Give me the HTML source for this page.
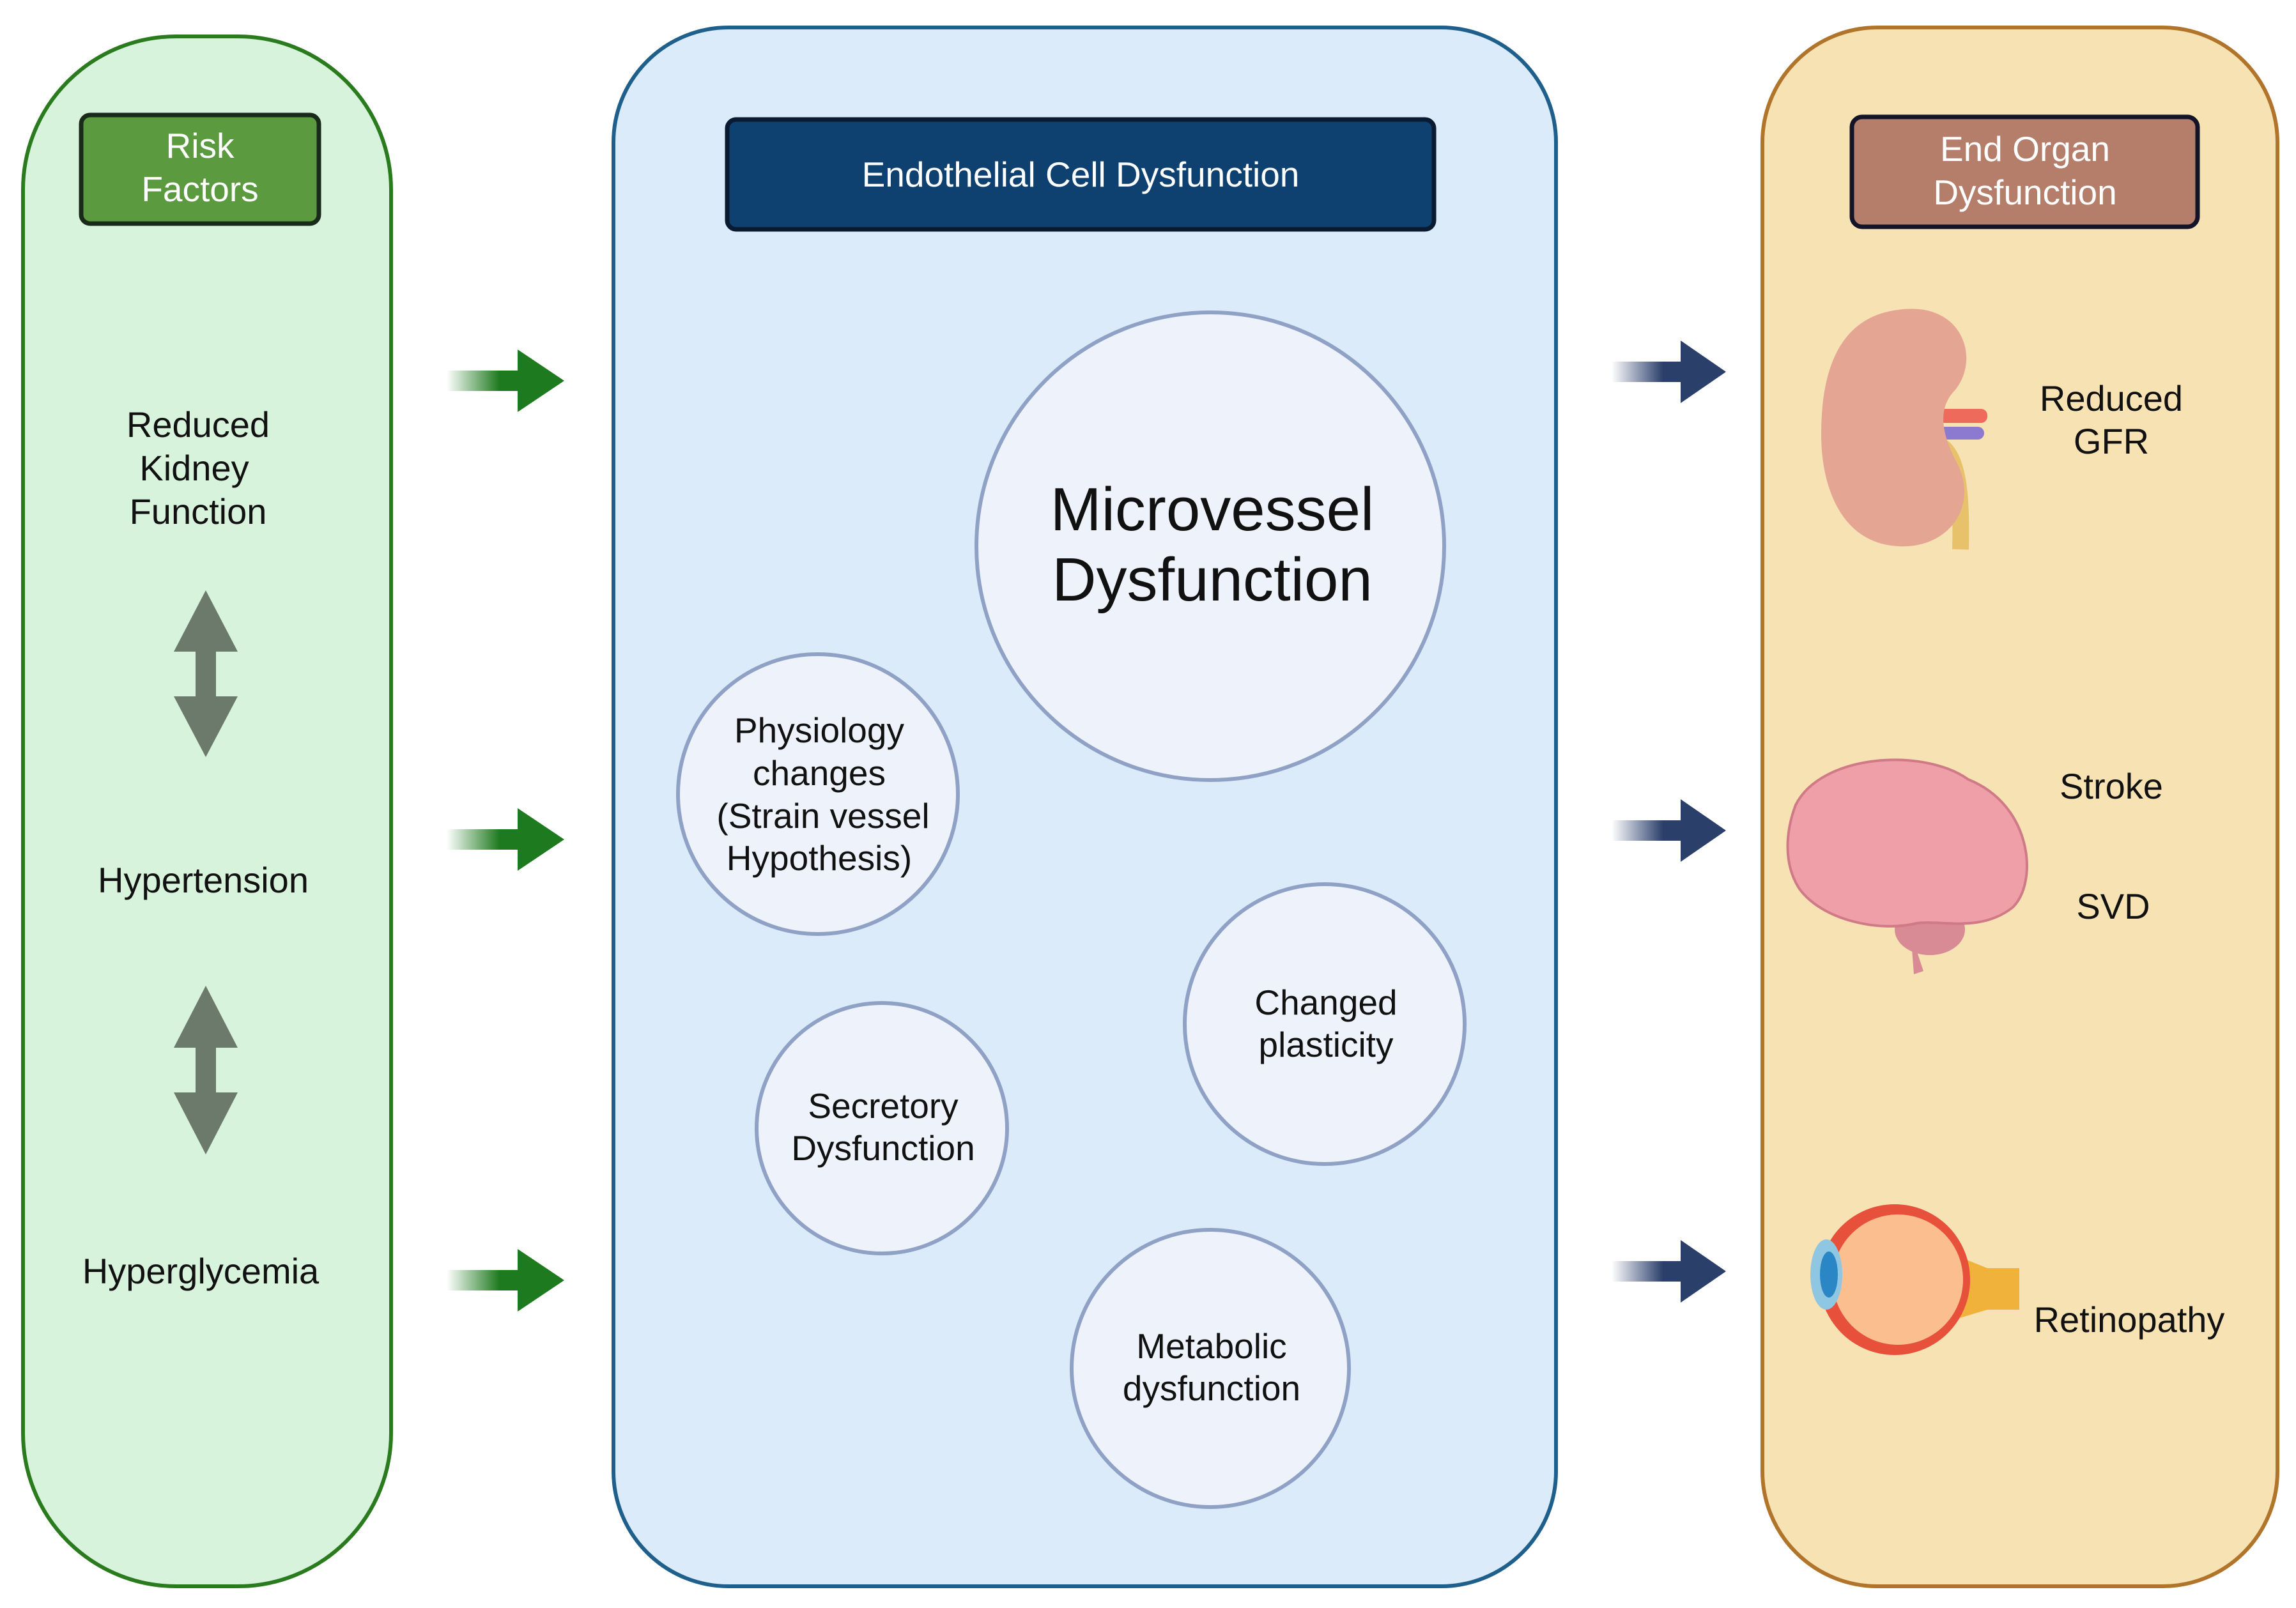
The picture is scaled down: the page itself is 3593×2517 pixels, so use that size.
<!DOCTYPE html>
<html><head><meta charset="utf-8"><style>
html,body{margin:0;padding:0;background:#fff;}
svg{display:block;}
text{font-family:"Liberation Sans",sans-serif;}
</style></head><body>
<svg width="3593" height="2517" viewBox="0 0 3593 2517" xmlns="http://www.w3.org/2000/svg">
<defs>
<linearGradient id="gg" x1="0" x2="1"><stop offset="0" stop-color="#1e7a1e" stop-opacity="0"/><stop offset="0.45" stop-color="#1e7a1e"/></linearGradient>
<linearGradient id="ng" x1="0" x2="1"><stop offset="0" stop-color="#2b3f6b" stop-opacity="0"/><stop offset="0.45" stop-color="#2b3f6b"/></linearGradient>
</defs>
<rect x="36" y="57" width="576" height="2426" rx="240" fill="#d8f3dc" stroke="#2a7a1e" stroke-width="6"/>
<rect x="960" y="43" width="1475" height="2440" rx="180" fill="#dbebf9" stroke="#1f5f8b" stroke-width="6"/>
<rect x="2758" y="43" width="806" height="2440" rx="180" fill="#f7e2b3" stroke="#b0742a" stroke-width="6"/>
<rect x="127" y="180" width="372" height="170" rx="14" fill="#5b9a3e" stroke="#1a2a1a" stroke-width="7"/>
<text x="313" y="247" font-size="55" fill="#fff" text-anchor="middle">Risk</text>
<text x="313" y="315" font-size="55" fill="#fff" text-anchor="middle">Factors</text>
<rect x="1138" y="187" width="1106" height="172" rx="14" fill="#0e4170" stroke="#0a1a30" stroke-width="7"/>
<text x="1691" y="292" font-size="55" fill="#fff" text-anchor="middle">Endothelial Cell Dysfunction</text>
<rect x="2898" y="183" width="541" height="172" rx="16" fill="#b47e6b" stroke="#141428" stroke-width="7"/>
<text x="3169" y="252" font-size="55" fill="#fff" text-anchor="middle">End Organ</text>
<text x="3169" y="320" font-size="55" fill="#fff" text-anchor="middle">Dysfunction</text>
<g font-size="56" fill="#111" text-anchor="middle">
<text x="310" y="684">Reduced</text>
<text x="304" y="752">Kidney</text>
<text x="310" y="820">Function</text>
<text x="318" y="1397">Hypertension</text>
<text x="314" y="2009">Hyperglycemia</text>
</g>
<g fill="#6b7a6b">
<path d="M322 924 L372 1020 L338 1020 L338 1090 L372 1090 L322 1185 L272 1090 L306 1090 L306 1020 L272 1020 Z"/>
<path d="M322 1543 L372 1640 L338 1640 L338 1710 L372 1710 L322 1807 L272 1710 L306 1710 L306 1640 L272 1640 Z"/>
</g>
<g fill="url(#gg)">
<path d="M699 580 L810 580 L810 547 L883 596 L810 645 L810 612 L699 612 Z"/>
<path d="M699 1298 L810 1298 L810 1265 L883 1314 L810 1363 L810 1330 L699 1330 Z"/>
<path d="M699 1988 L810 1988 L810 1955 L883 2004 L810 2053 L810 2020 L699 2020 Z"/>
</g>
<g fill="url(#ng)">
<path d="M2522 566 L2630 566 L2630 533 L2701 582 L2630 631 L2630 598 L2522 598 Z"/>
<path d="M2522 1284 L2630 1284 L2630 1251 L2701 1300 L2630 1349 L2630 1316 L2522 1316 Z"/>
<path d="M2522 1974 L2630 1974 L2630 1941 L2701 1990 L2630 2039 L2630 2006 L2522 2006 Z"/>
</g>
<g fill="#eef3fb" stroke="#8fa2c6" stroke-width="6">
<circle cx="1894" cy="855" r="366"/>
<circle cx="1280" cy="1243" r="219"/>
<circle cx="2073" cy="1603" r="219"/>
<circle cx="1380" cy="1766" r="196"/>
<circle cx="1894" cy="2142" r="217"/>
</g>
<g fill="#111" text-anchor="middle">
<text x="1897" y="830" font-size="96">Microvessel</text>
<text x="1897" y="940" font-size="96">Dysfunction</text>
<g font-size="55">
<text x="1282" y="1162">Physiology</text>
<text x="1282" y="1229">changes</text>
<text x="1288" y="1296">(Strain vessel</text>
<text x="1282" y="1362">Hypothesis)</text>
<text x="2075" y="1588">Changed</text>
<text x="2075" y="1654">plasticity</text>
<text x="1382" y="1750">Secretory</text>
<text x="1382" y="1816">Dysfunction</text>
<text x="1896" y="2126">Metabolic</text>
<text x="1896" y="2192">dysfunction</text>
</g>
</g>
<g font-size="56" fill="#111" text-anchor="middle">
<text x="3304" y="643">Reduced</text>
<text x="3304" y="710">GFR</text>
<text x="3304" y="1250">Stroke</text>
<text x="3307" y="1438">SVD</text>
<text x="3332" y="2085">Retinopathy</text>
</g>
<!-- kidney -->
<path d="M3040 700 C3065 720 3070 780 3068 860" stroke="#e8c26a" stroke-width="26" fill="none"/>
<rect x="3030" y="640" width="80" height="22" rx="10" fill="#ee6a5a"/>
<rect x="3030" y="668" width="75" height="20" rx="10" fill="#8c7ad0"/>
<path d="M2970 485 C3070 470 3100 560 3060 610 C3030 640 3040 680 3060 720 C3100 790 3050 860 2970 855 C2880 850 2850 760 2850 680 C2850 560 2890 495 2970 485 Z" fill="#e5a593"/>
<!-- brain -->
<ellipse cx="3020" cy="1455" rx="55" ry="40" fill="#d88a95"/>
<path d="M2990 1460 L3010 1520 L2995 1525 Z" fill="#d88a95"/>
<path d="M2810 1260 C2850 1180 3010 1170 3080 1220 C3180 1260 3190 1380 3150 1420 C3100 1460 3040 1440 3000 1445 C2940 1460 2850 1440 2815 1390 C2790 1350 2795 1300 2810 1260 Z" fill="#ee9fa8" stroke="#d07a88" stroke-width="4"/>
<!-- eye -->
<path d="M3060 1965 L3110 1985 L3160 1985 L3160 2050 L3110 2050 L3060 2065 Z" fill="#f0b23a"/>
<circle cx="2965" cy="2003" r="118" fill="#e7503a"/>
<circle cx="2970" cy="2003" r="102" fill="#fbbf8f"/>
<ellipse cx="2858" cy="1995" rx="25" ry="55" fill="#8fc7e2"/>
<ellipse cx="2862" cy="1995" rx="14" ry="36" fill="#2a86c4"/>
</svg>
</body></html>
